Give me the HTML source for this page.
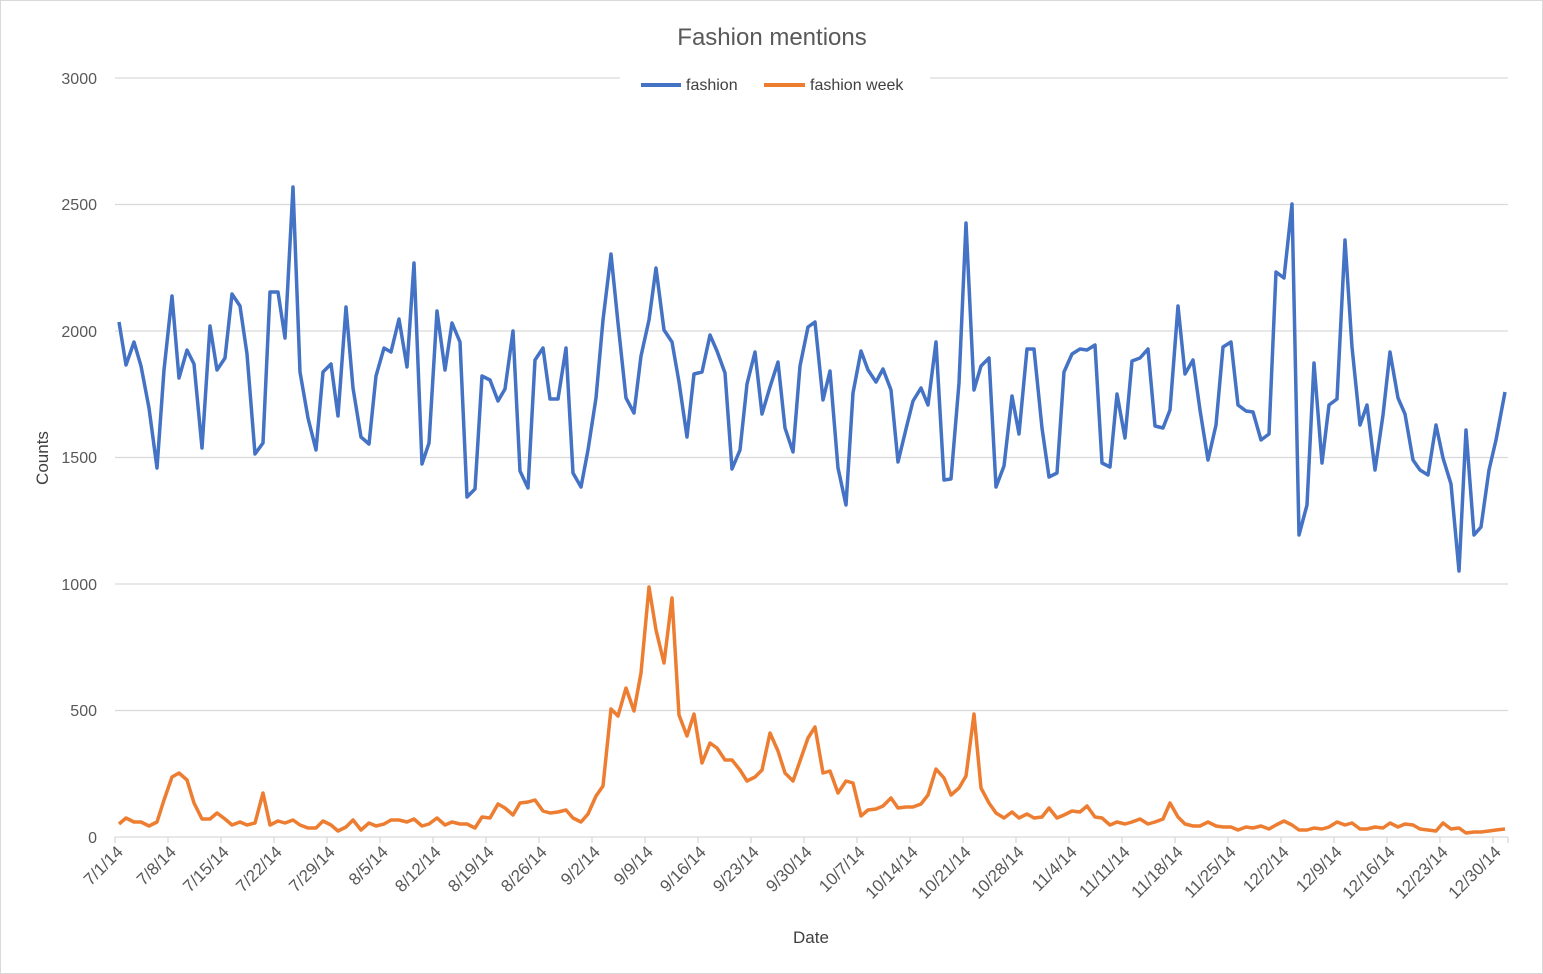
<!DOCTYPE html>
<html><head><meta charset="utf-8"><style>
body{margin:0;background:#fff;}
svg{display:block;font-family:"Liberation Sans",sans-serif;}
</style></head><body>
<svg width="1543" height="974" xmlns="http://www.w3.org/2000/svg">
<rect x="0.5" y="0.5" width="1542" height="973" fill="#fff" stroke="#d9d9d9"/>
<text x="772" y="45" text-anchor="middle" font-size="24" fill="#595959">Fashion mentions</text>
<g stroke="#d9d9d9" stroke-width="1.3">
<line x1="115" x2="1508" y1="78" y2="78"/>
<line x1="115" x2="1508" y1="204.5" y2="204.5"/>
<line x1="115" x2="1508" y1="331" y2="331"/>
<line x1="115" x2="1508" y1="457.5" y2="457.5"/>
<line x1="115" x2="1508" y1="584" y2="584"/>
<line x1="115" x2="1508" y1="710.5" y2="710.5"/>
<line x1="115" x2="1508" y1="837" y2="837"/>
</g>
<rect x="620" y="70" width="310" height="28" fill="#fff"/>
<g font-size="16" fill="#595959" text-anchor="end">
<text x="97" y="84">3000</text><text x="97" y="210">2500</text><text x="97" y="337">2000</text>
<text x="97" y="463">1500</text><text x="97" y="590">1000</text><text x="97" y="716">500</text><text x="97" y="843">0</text>
</g>
<text transform="translate(48,458) rotate(-90)" text-anchor="middle" font-size="17" fill="#404040">Counts</text>
<text x="811" y="943" text-anchor="middle" font-size="17" fill="#404040">Date</text>
<g stroke="#d9d9d9" stroke-width="1.3">
<line x1="115" x2="115" y1="837" y2="843"/><line x1="168" x2="168" y1="837" y2="843"/><line x1="221" x2="221" y1="837" y2="843"/><line x1="274" x2="274" y1="837" y2="843"/><line x1="327" x2="327" y1="837" y2="843"/><line x1="380" x2="380" y1="837" y2="843"/><line x1="433" x2="433" y1="837" y2="843"/><line x1="486" x2="486" y1="837" y2="843"/><line x1="539" x2="539" y1="837" y2="843"/><line x1="592" x2="592" y1="837" y2="843"/><line x1="645" x2="645" y1="837" y2="843"/><line x1="698" x2="698" y1="837" y2="843"/><line x1="751" x2="751" y1="837" y2="843"/><line x1="804" x2="804" y1="837" y2="843"/><line x1="857" x2="857" y1="837" y2="843"/><line x1="910" x2="910" y1="837" y2="843"/><line x1="963" x2="963" y1="837" y2="843"/><line x1="1016" x2="1016" y1="837" y2="843"/><line x1="1069" x2="1069" y1="837" y2="843"/><line x1="1122" x2="1122" y1="837" y2="843"/><line x1="1175" x2="1175" y1="837" y2="843"/><line x1="1228" x2="1228" y1="837" y2="843"/><line x1="1281" x2="1281" y1="837" y2="843"/><line x1="1334" x2="1334" y1="837" y2="843"/><line x1="1387" x2="1387" y1="837" y2="843"/><line x1="1440" x2="1440" y1="837" y2="843"/><line x1="1493" x2="1493" y1="837" y2="843"/><line x1="1508" x2="1508" y1="837" y2="843"/>
</g>
<g font-size="17" fill="#595959" text-anchor="end">
<text transform="translate(124,853) rotate(-45)">7/1/14</text>
<text transform="translate(177,853) rotate(-45)">7/8/14</text>
<text transform="translate(230,853) rotate(-45)">7/15/14</text>
<text transform="translate(283,853) rotate(-45)">7/22/14</text>
<text transform="translate(336,853) rotate(-45)">7/29/14</text>
<text transform="translate(389,853) rotate(-45)">8/5/14</text>
<text transform="translate(442,853) rotate(-45)">8/12/14</text>
<text transform="translate(495,853) rotate(-45)">8/19/14</text>
<text transform="translate(548,853) rotate(-45)">8/26/14</text>
<text transform="translate(601,853) rotate(-45)">9/2/14</text>
<text transform="translate(654,853) rotate(-45)">9/9/14</text>
<text transform="translate(707,853) rotate(-45)">9/16/14</text>
<text transform="translate(760,853) rotate(-45)">9/23/14</text>
<text transform="translate(813,853) rotate(-45)">9/30/14</text>
<text transform="translate(866,853) rotate(-45)">10/7/14</text>
<text transform="translate(919,853) rotate(-45)">10/14/14</text>
<text transform="translate(972,853) rotate(-45)">10/21/14</text>
<text transform="translate(1025,853) rotate(-45)">10/28/14</text>
<text transform="translate(1078,853) rotate(-45)">11/4/14</text>
<text transform="translate(1131,853) rotate(-45)">11/11/14</text>
<text transform="translate(1184,853) rotate(-45)">11/18/14</text>
<text transform="translate(1237,853) rotate(-45)">11/25/14</text>
<text transform="translate(1290,853) rotate(-45)">12/2/14</text>
<text transform="translate(1343,853) rotate(-45)">12/9/14</text>
<text transform="translate(1396,853) rotate(-45)">12/16/14</text>
<text transform="translate(1449,853) rotate(-45)">12/23/14</text>
<text transform="translate(1502,853) rotate(-45)">12/30/14</text>
</g>
<line x1="641" x2="681" y1="85" y2="85" stroke="#4472c4" stroke-width="4"/>
<text x="686" y="90" font-size="16" fill="#404040">fashion</text>
<line x1="764" x2="805" y1="85" y2="85" stroke="#ed7d31" stroke-width="4"/>
<text x="810" y="90" font-size="16" fill="#404040">fashion week</text>
<polyline fill="none" stroke="#4472c4" stroke-width="3.5" stroke-linejoin="round" points="119,322 126,365 134,342 141,366 149,408 157,468 164,370 172,296 179,378 187,350 194,364 202,448 210,326 217,370 225,358 232,294 240,306 247,354 255,454 263,443 270,292 278,292 285,338 293,187 300,372 308,418 316,450 323,372 331,364 338,416 346,307 353,388 361,437 369,444 376,376 384,348 391,352 399,319 407,367 414,263 422,464 429,443 437,311 445,370 452,323 460,342 467,497 475,489 482,376 490,380 498,401 505,389 513,331 520,471 528,488 535,360 543,348 550,399 558,399 566,348 573,473 581,487 588,450 596,398 603,320 611,254 618,323 626,398 634,413 641,356 649,320 656,268 664,330 672,342 679,382 687,437 694,374 702,372 710,335 717,351 725,373 732,469 740,450 747,384 755,352 762,414 770,387 778,362 785,428 793,452 800,366 808,327 815,322 823,400 830,371 838,468 846,505 853,393 861,351 868,370 876,382 883,369 891,390 898,462 906,429 913,401 921,388 928,405 936,342 944,480 951,479 959,383 966,223 974,390 981,366 989,358 996,487 1004,466 1012,396 1019,434 1027,349 1034,349 1042,428 1049,477 1057,473 1064,372 1072,354 1080,349 1087,350 1095,345 1102,463 1110,467 1117,394 1125,438 1132,361 1140,358 1148,349 1155,426 1163,428 1170,410 1178,306 1185,374 1193,360 1200,410 1208,460 1216,425 1223,347 1231,342 1238,405 1246,411 1253,412 1261,440 1269,434 1276,272 1284,278 1292,204 1299,535 1307,505 1314,363 1322,463 1329,405 1337,399 1345,240 1352,347 1360,425 1367,405 1375,470 1383,415 1390,352 1398,398 1405,414 1413,460 1420,470 1428,475 1436,425 1443,458 1451,484 1459,571 1466,430 1474,535 1481,527 1489,470 1496,440 1505,392"/>
<polyline fill="none" stroke="#ed7d31" stroke-width="3.5" stroke-linejoin="round" points="119,824 126,818 134,822 141,822 149,826 157,822 164,800 172,777 179,773 187,780 194,803 202,819 210,819 217,813 225,819 232,825 240,822 247,825 255,823 263,793 270,825 278,821 285,823 293,820 300,825 308,828 316,828 323,821 331,825 338,831 346,827 353,820 361,830 369,823 376,826 384,824 391,820 399,820 407,822 414,819 422,826 429,824 437,818 445,825 452,822 460,824 467,824 475,828 482,817 490,818 498,804 505,808 513,815 520,803 528,802 535,800 543,811 550,813 558,812 566,810 573,818 581,822 588,814 596,796 603,786 611,709 618,716 626,688 634,711 641,673 649,587 656,630 664,663 672,598 679,715 687,736 694,714 702,763 710,743 717,748 725,760 732,760 740,770 747,781 755,777 762,770 770,733 778,751 785,773 793,781 800,761 808,738 815,727 823,773 830,771 838,793 846,781 853,783 861,816 868,810 876,809 883,806 891,798 898,808 906,807 913,807 921,804 928,795 936,769 944,778 951,795 959,788 966,776 974,714 981,788 989,803 996,813 1004,818 1012,812 1019,818 1027,814 1034,818 1042,817 1049,808 1057,818 1064,815 1072,811 1080,812 1087,806 1095,817 1102,818 1110,825 1117,822 1125,824 1132,822 1140,819 1148,824 1155,822 1163,819 1170,803 1178,817 1185,824 1193,826 1200,826 1208,822 1216,826 1223,827 1231,827 1238,830 1246,827 1253,828 1261,826 1269,829 1276,825 1284,821 1292,825 1299,830 1307,830 1314,828 1322,829 1329,827 1337,822 1345,825 1352,823 1360,829 1367,829 1375,827 1383,828 1390,823 1398,827 1405,824 1413,825 1420,829 1428,830 1436,831 1443,823 1451,829 1459,828 1466,833 1474,832 1481,832 1489,831 1496,830 1505,829"/>
</svg>
</body></html>
